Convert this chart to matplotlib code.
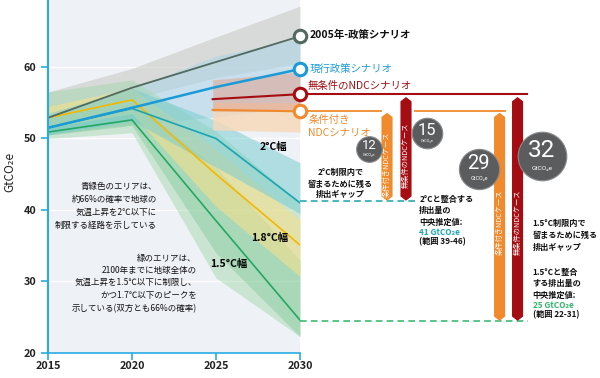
import matplotlib
matplotlib.use('Agg')
import matplotlib.pyplot as plt
from matplotlib.patches import Polygon

plt.rcParams['font.family'] = ['Noto Sans CJK JP', 'DejaVu Sans']

# data (GtCO2e)
years = [2015, 2020, 2025, 2030]

policy2005 = [52.9, 57.1, 60.7, 64.3]
policy2005_lo = [51.5, 55.5, 58.5, 60.5]
policy2005_hi = [56.5, 59.8, 64.2, 68.5]

current = [51.5, 54.3, 57.2, 59.7]
current_lo = [50.5, 52.0, 53.0, 54.5]
current_hi = [53.0, 57.0, 61.5, 64.0]

ndc_years = [2024.8, 2030]
ndc_uncond = [55.5, 56.2]
ndc_uncond_lo = [53.8, 53.8]
ndc_uncond_hi = [58.2, 59.3]
ndc_cond = [54.0, 53.8]
ndc_cond_lo = [51.2, 50.9]
ndc_cond_hi = [55.0, 55.0]

path2c = [51.5, 54.2, 50.0, 41.0]
path2c_lo = [50.5, 52.5, 46.0, 39.5]
path2c_hi = [53.5, 57.0, 52.5, 46.6]

path18 = [52.9, 55.4, 45.0, 35.1]
path18_lo = [51.5, 53.5, 40.5, 30.7]
path18_hi = [54.5, 57.0, 48.5, 38.6]

path15 = [50.9, 52.6, 38.5, 24.6]
path15_lo = [50.0, 50.8, 30.5, 22.3]
path15_hi = [56.5, 58.2, 51.0, 41.0]
path15_in_lo = [50.5, 51.8, 34.0, 22.3]
path15_in_hi = [53.0, 55.0, 46.0, 33.0]

target2c = 41.3
target15 = 24.5
gaps2c = [12, 15]
gaps15 = [29, 32]

C_GREY = '#52695f'
C_BLUE = '#1a9bd7'
C_RED = '#a50d12'
C_ORANGE = '#f08a2c'
C_TEAL = '#1aa6b0'
C_YELLOW = '#f3b800'
C_GREEN = '#22a862'

fig = plt.figure(figsize=(6, 3.78), dpi=100)
ax = fig.add_axes([48 / 600, 25 / 378, 252 / 600, 353 / 378])
ax.set_facecolor('#eef1f6')
ax.set_xlim(2015, 2030)
ax.set_ylim(20, 69.37)

for y in [30, 40, 50, 60]:
    ax.axhline(y, color='white', lw=1, zorder=0)

# bands
ax.fill_between(years, policy2005_lo, policy2005_hi, color='#c9cbc5', alpha=0.6, lw=0)
ax.fill_between(years, current_lo, current_hi, color='#a9d3e6', alpha=0.55, lw=0)
ax.fill_between(years, path15_lo, path15_hi, color='#9fd6a8', alpha=0.45, lw=0)
ax.fill_between(years, path15_in_lo, path15_in_hi, color='#6cc48a', alpha=0.35, lw=0)
ax.fill_between(years, path18_lo, path18_hi, color='#f4e08c', alpha=0.6, lw=0)
ax.fill_between(years, path2c_lo, path2c_hi, color='#72cbd0', alpha=0.5, lw=0)
ax.fill_between(ndc_years, ndc_cond_lo, ndc_cond_hi, color='#f7d8b8', alpha=0.8, lw=0)
ax.fill_between(ndc_years, ndc_uncond_lo, ndc_uncond_hi, color='#e39c86', alpha=0.5, lw=0)

# lines
ax.plot(years, path15, color=C_GREEN, lw=1.2)
ax.plot(years, path18, color=C_YELLOW, lw=1.2)
ax.plot(years, path2c, color=C_TEAL, lw=1.2)
ax.plot(years, policy2005, color=C_GREY, lw=1.3)
ax.plot(years, current, color=C_BLUE, lw=1.8)
ax.plot(ndc_years, ndc_uncond, color=C_RED, lw=1.5)
ax.plot(ndc_years, ndc_cond, color=C_ORANGE, lw=1.5)

# horizontal leaders to the gap bars
ax.plot([2030, 2043.5], [ndc_uncond[-1]] * 2, color=C_RED, lw=1.5, clip_on=False, zorder=3)
ax.plot([2030, 2034.85], [ndc_cond[-1]] * 2, color=C_ORANGE, lw=1.3, clip_on=False, zorder=3)
ax.plot([2036.85, 2042.2], [ndc_cond[-1]] * 2, color=C_ORANGE, lw=1.3, clip_on=False, zorder=3)

# dashed target lines
ax.plot([2030, 2036.9], [target2c] * 2, color='#2aabb0', lw=1.2, ls=(0, (4, 2.5)), clip_on=False)
ax.plot([2030, 2043.6], [target15] * 2, color='#3dbb74', lw=1.2, ls=(0, (4, 2.5)), clip_on=False)

# end circles
for val, col in [(policy2005[-1], C_GREY), (current[-1], C_BLUE),
                 (ndc_uncond[-1], C_RED), (ndc_cond[-1], C_ORANGE)]:
    ax.plot(2030, val, 'o', ms=9, mfc='white', mec=col, mew=2.2, clip_on=False, zorder=6)


def gap_bar(xc, bottom, top, color, label, label_y):
    hw, tip = 0.33, 0.6
    pts = [(xc - hw, bottom + tip), (xc, bottom), (xc + hw, bottom + tip),
           (xc + hw, top - tip), (xc, top), (xc - hw, top - tip)]
    ax.add_patch(Polygon(pts, closed=True, fc=color, ec='none', clip_on=False, zorder=4))
    ax.text(xc, label_y, label, rotation=90, color='white', fontsize=5.2,
            ha='center', va='center', clip_on=False, zorder=5)


gap_bar(2035.18, target2c, ndc_cond[-1] - 0.2, C_ORANGE, '条件付きNDCケース', 46.4)
gap_bar(2036.31, target2c, ndc_uncond[-1] - 0.4, C_RED, '無条件のNDCケース', 47.6)
gap_bar(2041.88, target15, ndc_cond[-1] - 0.2, C_ORANGE, '条件付きNDCケース', 38.3)
gap_bar(2042.95, target15, ndc_uncond[-1] - 0.4, C_RED, '無条件のNDCケース', 38.3)

# gap value bubbles
for (gx, gy, ms, fs), val in zip([(2034.13, 48.6, 18.5, 9.5), (2037.58, 50.7, 22, 12),
                                  (2040.65, 45.8, 29, 14.5), (2044.39, 47.5, 35, 17.5)],
                                 gaps2c + gaps15):
    ax.plot(gx, gy, 'o', ms=ms, mfc='#5b5c5e', mec='#8a8b8d', mew=0.8, clip_on=False, zorder=7)
    ax.text(gx, gy + ms * 0.022, str(val), color='white', fontsize=fs, family='Roboto',
            ha='center', va='center', clip_on=False, zorder=8)
    ax.text(gx, gy - ms * 0.05, 'GtCO₂e', color='white', fontsize=max(2.8, ms / 7.5),
            family=['Roboto', 'DejaVu Sans'], ha='center', va='center', clip_on=False, zorder=8)

# scenario labels
ax.text(2030.55, 64.5, '2005年-政策シナリオ', fontsize=7.5, weight='bold', color='#111111',
        va='center', clip_on=False)
ax.text(2030.6, 59.7, '現行政策シナリオ', fontsize=7.5, color=C_BLUE, va='center', clip_on=False)
ax.text(2030.42, 57.4, '無条件のNDCシナリオ', fontsize=7.5, color=C_RED, va='center', clip_on=False)
ax.text(2030.5, 52.6, '条件付き', fontsize=7.5, color=C_ORANGE, va='center', clip_on=False)
ax.text(2030.5, 50.8, 'NDCシナリオ', fontsize=7.5, color=C_ORANGE, va='center', clip_on=False)


def lines_at(x, ys, texts, ha='left', fs=5.9, weight='bold', colors=None):
    for i, (y, t) in enumerate(zip(ys, texts)):
        c = colors[i] if colors else '#111111'
        ax.text(x, y, t, fontsize=fs, weight=weight, ha=ha, va='center', color=c, clip_on=False)


lines_at(2032.4, [45.3, 43.6, 42.1], ['2°C制限内で', '留まるために残る', '排出ギャップ'], ha='center')
lines_at(2037.1, [41.5, 39.9, 38.2, 36.9, 35.5],
         ['2°Cと整合する', '排出量の', '中央推定値:', '41 GtCO₂e', '(範囲 39-46)'],
         colors=['#111111', '#111111', '#111111', C_TEAL, '#111111'])
lines_at(2043.85, [38.1, 36.4, 34.8], ['1.5°C制限内で', '留まるために残る', '排出ギャップ'])
lines_at(2043.85, [31.3, 29.7, 28.0, 26.7, 25.3],
         ['1.5°Cと整合', 'する排出量の', '中央推定値:', '25 GtCO₂e', '(範囲 22-31)'],
         colors=['#111111', '#111111', '#111111', '#2fb56a', '#111111'])

lines_at(2021.49, [43.3, 41.5, 39.6, 37.8],
         ['青緑色のエリアは、', '約66%の確率で地球の', '気温上昇を2℃以下に', '制限する経路を示している'],
         ha='right', fs=6.1, weight='normal')
lines_at(2023.85, [33.2, 31.6, 29.9, 28.0, 26.2],
         ['緑のエリアは、', '2100年までに地球全体の', '気温上昇を1.5℃以下に制限し、',
          'かつ1.7℃以下のピークを', '示している(双方とも66%の確率)'],
         ha='right', fs=6.1, weight='normal')

# band labels
ax.text(2028.42, 48.76, '2°C幅', fontsize=7.5, weight='bold', ha='center', va='center')
ax.text(2028.21, 36.04, '1.8°C幅', fontsize=7.5, weight='bold', ha='center', va='center')
ax.text(2025.73, 32.45, '1.5°C幅', fontsize=7.5, weight='bold', ha='center', va='center')

# axes styling
for s in ['top', 'right']:
    ax.spines[s].set_visible(False)
ax.spines['left'].set_color('#29abe2')
ax.spines['left'].set_linewidth(1.5)
ax.spines['bottom'].set_color('#29abe2')
ax.spines['bottom'].set_linewidth(1.2)
ax.set_xticks([2015, 2020, 2025, 2030])
ax.set_yticks([20, 30, 40, 50, 60])
ax.tick_params(axis='both', colors='#29abe2', labelcolor='#222222', labelsize=7.8, length=5, width=1.2)
ax.tick_params(axis='x', pad=0.5)
for lab in ax.get_xticklabels() + ax.get_yticklabels():
    lab.set_fontweight('bold')
fig.text(10 / 600, 1 - 172 / 378, 'GtCO₂e', rotation=90, fontsize=8.5, ha='center', va='center',
         color='#222222')

fig.savefig('out.png', dpi=100)
